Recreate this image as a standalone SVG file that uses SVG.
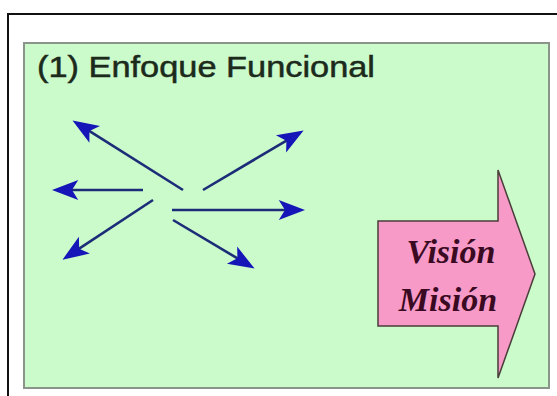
<svg xmlns="http://www.w3.org/2000/svg" width="557" height="396" viewBox="0 0 557 396">
  <style>
    .frame { fill: none; stroke: #111; stroke-width: 2; }
    .panel { fill: #cbfbcb; stroke: #8a948a; stroke-width: 2; }
    .title { font-family: "Liberation Sans", Arial, sans-serif; font-size: 30px; fill: #1c2a1c; stroke: #1c2a1c; stroke-width: 0.5; }
    .ray { stroke: #1c2c78; stroke-width: 2.6; fill: none; marker-end: url(#head); }
    .big-arrow { fill: #f79ac7; stroke: #4a3e3a; stroke-width: 1.5; stroke-linejoin: miter; }
    .label { font-family: "Liberation Serif", "Times New Roman", serif; font-size: 34px; font-weight: bold; font-style: italic; fill: #3a0a22; text-anchor: middle; }
  </style>
  <defs>
    <marker id="head" markerUnits="userSpaceOnUse" markerWidth="30" markerHeight="30" viewBox="-10 -10 24 20" refX="0" refY="0" orient="auto">
      <path d="M12,0 L-9,-8 L-4,0 L-9,8 Z" fill="#1515b8"/>
    </marker>
  </defs>

  <rect width="557" height="396" fill="#ffffff"/>
  <!-- outer frame (top and left edges) -->
  <path class="frame" d="M8,396 V14 H557"/>

  <!-- green panel -->
  <g id="panel">
    <rect class="panel" x="24" y="43" width="525" height="345"/>
    <text class="title" x="37" y="77" textLength="338" lengthAdjust="spacingAndGlyphs">(1) Enfoque Funcional</text>
  </g>

  <!-- scattered direction arrows -->
  <g id="connectors">
    <line class="ray" x1="183" y1="190" x2="85.2" y2="128.4"/>
    <line class="ray" x1="203" y1="190" x2="290.7" y2="138.1"/>
    <line class="ray" x1="143" y1="190" x2="67" y2="190"/>
    <line class="ray" x1="172" y1="210" x2="290" y2="210"/>
    <line class="ray" x1="153" y1="200" x2="75" y2="251.4"/>
    <line class="ray" x1="173" y1="220" x2="241.7" y2="260.9"/>
  </g>

  <!-- block arrow -->
  <g id="vision-mision">
    <path class="big-arrow" d="M378,221 H498 V170 L535,274 L498,378 V326 H378 Z"/>
    <text class="label" x="451" y="263">Visión</text>
    <text class="label" x="448" y="311">Misión</text>
  </g>
</svg>
